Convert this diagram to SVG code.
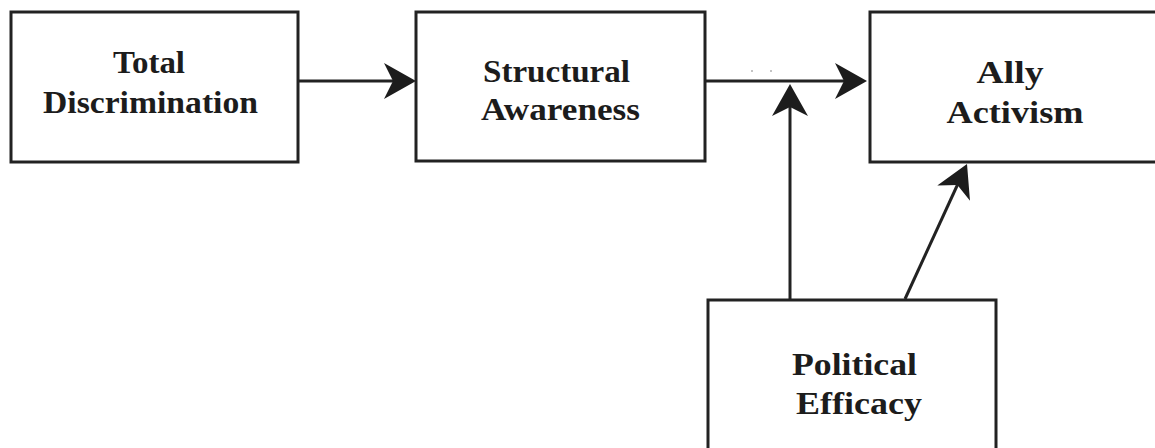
<svg xmlns="http://www.w3.org/2000/svg" width="1155" height="448" viewBox="0 0 1155 448">
  <style>
    .box { fill: #ffffff; stroke: #222222; stroke-width: 3; }
    .label { font-family: "Liberation Serif", "Times New Roman", serif; font-weight: bold; font-size: 32px; fill: #1c1c1c; text-anchor: middle; }
    .edge { fill: none; stroke: #222222; stroke-width: 3; marker-end: url(#head); }
  </style>
  <defs>
    <!-- notched, filled arrowhead; tip sits 6px beyond the line end -->
    <marker id="head" viewBox="-27 -19 34 38" refX="0" refY="0" markerWidth="34" markerHeight="38" markerUnits="userSpaceOnUse" orient="auto">
      <path d="M6,0 L-26,-18 L-17,0 L-26,18 Z" fill="#1c1c1c"/>
    </marker>
  </defs>
  <rect width="1155" height="448" fill="#ffffff"/>

  <g id="connectors">
    <line class="edge" x1="299" y1="81" x2="410" y2="81"/>
    <line class="edge" x1="706" y1="81" x2="861" y2="81"/>
    <line class="edge" x1="790" y1="300" x2="790" y2="90"/>
    <line class="edge" x1="905" y1="299" x2="964.5" y2="169.5"/>
    <circle cx="752" cy="71" r="1" fill="#b0b0b0"/>
    <circle cx="771" cy="71" r="1" fill="#b0b0b0"/>
  </g>

  <g id="total-discrimination">
    <rect class="box" x="11" y="12" width="287" height="150"/>
    <text class="label" x="149" y="73" textLength="72" lengthAdjust="spacingAndGlyphs">Total</text>
    <text class="label" x="150.5" y="113" textLength="215" lengthAdjust="spacingAndGlyphs">Discrimination</text>
  </g>

  <g id="structural-awareness">
    <rect class="box" x="416" y="12" width="289" height="149"/>
    <text class="label" x="556.5" y="82" textLength="147" lengthAdjust="spacingAndGlyphs">Structural</text>
    <text class="label" x="560.5" y="120" textLength="159" lengthAdjust="spacingAndGlyphs">Awareness</text>
  </g>

  <g id="ally-activism">
    <rect class="box" x="870" y="12" width="300" height="150"/>
    <text class="label" x="1010" y="83" textLength="67" lengthAdjust="spacingAndGlyphs">Ally</text>
    <text class="label" x="1015" y="123" textLength="137" lengthAdjust="spacingAndGlyphs">Activism</text>
  </g>

  <g id="political-efficacy">
    <rect class="box" x="708" y="300" width="288" height="150"/>
    <text class="label" x="854.5" y="375" textLength="125" lengthAdjust="spacingAndGlyphs">Political</text>
    <text class="label" x="859" y="414" textLength="126" lengthAdjust="spacingAndGlyphs">Efficacy</text>
  </g>
</svg>
